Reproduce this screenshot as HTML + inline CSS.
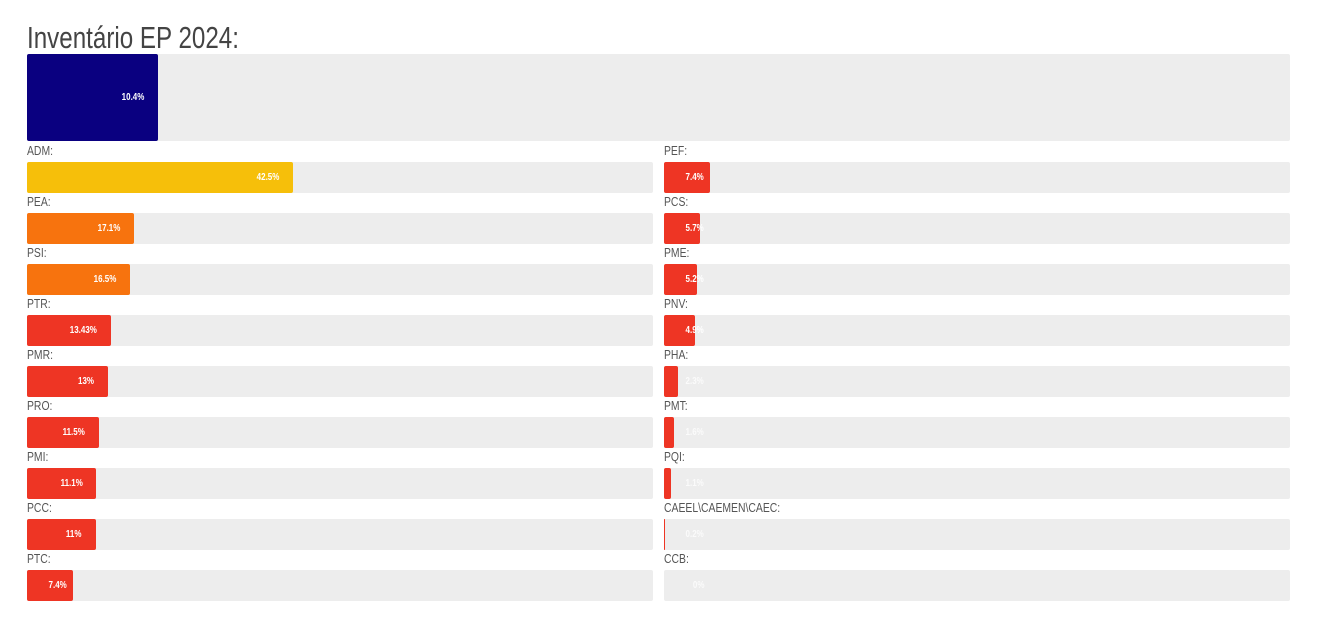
<!DOCTYPE html>
<html><head><meta charset="utf-8">
<style>
body{margin:0;background:#fff;width:1320px;height:618px;overflow:hidden;font-family:"Liberation Sans",sans-serif;position:relative}
#title{position:absolute;left:27px;top:20px;font-size:31px;color:#444;transform:scaleX(0.78);transform-origin:left top;white-space:nowrap;letter-spacing:0}
.lbl{position:absolute;font-size:13px;color:#555;transform:scaleX(0.8);transform-origin:left top;white-space:nowrap}
.track{position:absolute;background:#ededed;border-radius:2px}
.bar{position:absolute;left:0;top:0;bottom:0;border-radius:2px}
.val{position:absolute;font-size:10px;color:#fff;transform:scaleX(0.8);transform-origin:right center;white-space:nowrap;font-weight:bold}
</style></head><body>
<div id="title">Inventário EP 2024:</div>
<div id="chart"></div>
<script>
const totalValue = 10.4;
const totalLabel = "10.4%";
const leftCats = ["ADM","PEA","PSI","PTR","PMR","PRO","PMI","PCC","PTC"];
const leftVals = [42.5,17.1,16.5,13.43,13,11.5,11.1,11,7.4];
const leftLabels = ["42.5%","17.1%","16.5%","13.43%","13%","11.5%","11.1%","11%","7.4%"];
const rightCats = ["PEF","PCS","PME","PNV","PHA","PMT","PQI","CAEEL\\CAEMEN\\CAEC","CCB"];
const rightVals = [7.4,5.7,5.2,4.9,2.3,1.6,1.1,0.2,0];
const rightLabels = ["7.4%","5.7%","5.2%","4.9%","2.3%","1.6%","1.1%","0.2%","0%"];

function colorFor(v){ if(v>=30) return "#f6bf0a"; if(v>=15) return "#f7730e"; return "#ee3524"; }
const chart=document.getElementById('chart');
function makeBar(x,y,w,h,v,label,color,name){
  const t=document.createElement('div');
  t.className='track';
  
  
  t.style.cssText=`left:${x}px;top:${y}px;width:${w}px;height:${h}px`;
  const b=document.createElement('div');
  b.className='bar';
  
  
  const bw=w*v/100;
  b.style.width=bw+'px'; b.style.background=color;
  t.appendChild(b);
  const s=document.createElement('div');
  s.className='val';
  
  
  s.textContent=label;
  const right=Math.max(bw-14, 40);
  s.style.right=(w-right)+'px'; s.style.top=(h/2-6)+'px';
  if(bw<30){s.style.color='rgba(255,255,255,0.75)';}
  t.appendChild(s);
  chart.appendChild(t);
}
makeBar(27,54,1263,87,totalValue,totalLabel,"#0a0080","total");
function col(cats,vals,labels,x){
  cats.forEach((c,i)=>{
    const y=143+i*51;
    const l=document.createElement('div');
    l.className='lbl';
    
    
    l.textContent=c+':';
    l.style.left=x+'px'; l.style.top=y+'px';
    chart.appendChild(l);
    makeBar(x,y+19,626,31,vals[i],labels[i],colorFor(vals[i]),c.toLowerCase().replace(/[^a-z]/g,'-'));
  });
}
col(leftCats,leftVals,leftLabels,27);
col(rightCats,rightVals,rightLabels,664);
</script>
</body></html>
